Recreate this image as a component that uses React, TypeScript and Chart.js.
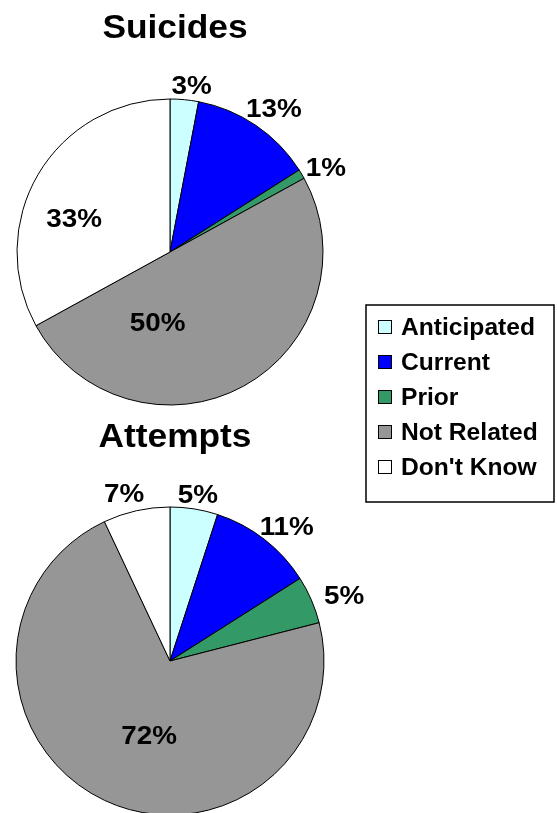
import React, { useEffect, useRef } from "react";
import { Chart, registerables } from "chart.js";

Chart.register(...registerables);

// ---- data ----
const categories = ["Anticipated", "Current", "Prior", "Not Related", "Don't Know"];
const suicideShares = [3, 13, 1, 50, 33];
const attemptShares = [5, 11, 5, 72, 7];
const sliceColors = ["#CCFFFF", "#0000FF", "#339966", "#969696", "#FFFFFF"];

// ---- styling ----
const FONT = '"Liberation Sans", Arial, Helvetica, sans-serif';
const STRETCH = 1.07;
const W = 557;
const H = 813;

// polar placement of each percentage label: f = distance as a fraction of the
// radius, da = degrees turned from the slice's middle angle (clockwise)
const suicideLabelPlacement = [
  { f: 1.1, da: 2 },
  { f: 1.16, da: 1.6 },
  { f: 1.16, da: 2 },
  { f: 0.46, da: 39 },
  { f: 0.665, da: -11 },
];
const attemptLabelPlacement = [
  { f: 1.1, da: 0.5 },
  { f: 1.16, da: 3 },
  { f: 1.21, da: 2.6 },
  { f: 0.5, da: -9.5 },
  { f: 1.13, da: -2.7 },
];

function stretchedText(
  ctx: CanvasRenderingContext2D,
  text: string,
  x: number,
  y: number,
  size: number,
  align: CanvasTextAlign
) {
  ctx.save();
  ctx.font = `bold ${size}px ${FONT}`;
  ctx.textBaseline = "alphabetic";
  ctx.textAlign = align;
  ctx.fillStyle = "#000";
  ctx.translate(x, y);
  ctx.scale(STRETCH, 1);
  ctx.fillText(text, 0, 0);
  ctx.restore();
}

// Title above the pie and a percentage label for every slice
const pieDecor = {
  id: "pieDecor",
  afterDatasetsDraw(chart: any, _args: any, opts: any) {
    const ctx: CanvasRenderingContext2D = chart.ctx;
    const meta = chart.getDatasetMeta(0);
    const arcs = meta.data as any[];
    if (!arcs.length) return;
    const cx = arcs[0].x;
    const cy = arcs[0].y;
    const r = arcs[0].outerRadius;
    stretchedText(ctx, opts.title, cx + 5, cy - 214, 33, "center");
    const values = chart.data.datasets[0].data as number[];
    const size = 26;
    arcs.forEach((arc, i) => {
      const p = opts.placement[i];
      const a = (arc.startAngle + arc.endAngle) / 2 + (p.da * Math.PI) / 180;
      const x = cx + Math.cos(a) * p.f * r;
      const y = cy + Math.sin(a) * p.f * r;
      stretchedText(ctx, `${values[i]}%`, x, y + size * 0.358, size, "center");
    });
  },
};

// Boxed legend shared by both pies
const boxLegend = {
  id: "boxLegend",
  afterDraw(chart: any, _args: any, opts: any) {
    const ctx: CanvasRenderingContext2D = chart.ctx;
    const { left, top, width, height } = opts;
    ctx.save();
    ctx.strokeStyle = "#000";
    ctx.lineWidth = 1.5;
    ctx.strokeRect(left, top, width, height);
    const labels = chart.data.labels as string[];
    const colors = chart.data.datasets[0].backgroundColor as string[];
    labels.forEach((label, i) => {
      const cy = top + 22 + i * 35;
      ctx.fillStyle = colors[i];
      ctx.fillRect(left + 12, cy - 7, 14, 14);
      ctx.lineWidth = 1;
      ctx.strokeStyle = "#000";
      ctx.strokeRect(left + 12.5, cy - 6.5, 13, 13);
      stretchedText(ctx, label, left + 35, cy + 23 * 0.358, 23, "left");
    });
    ctx.restore();
  },
};

function makePie(
  canvas: HTMLCanvasElement,
  title: string,
  data: number[],
  placement: { f: number; da: number }[],
  radius: number,
  padding: { left: number; right: number; top: number; bottom: number },
  withLegend: boolean
) {
  return new Chart(canvas, {
    type: "pie",
    data: {
      labels: categories,
      datasets: [
        {
          data,
          backgroundColor: sliceColors,
          borderColor: "#000",
          borderWidth: 1,
          radius,
          clip: false,
        } as any,
      ],
    },
    options: {
      responsive: false,
      animation: false,
      events: [],
      layout: { padding },
      plugins: {
        legend: { display: false },
        tooltip: { enabled: false },
        pieDecor: { title, placement },
        boxLegend: { left: 366, top: 305, width: 188, height: 197 },
      } as any,
    },
    plugins: withLegend ? [pieDecor, boxLegend] : [pieDecor],
  });
}

export default function App() {
  const topRef = useRef<HTMLCanvasElement>(null);
  const bottomRef = useRef<HTMLCanvasElement>(null);

  useEffect(() => {
    if (!topRef.current || !bottomRef.current) return;
    const attempts = makePie(
      bottomRef.current,
      "Attempts",
      attemptShares,
      attemptLabelPlacement,
      154,
      { left: 0, right: 217, top: 509, bottom: 0 },
      false
    );
    const suicides = makePie(
      topRef.current,
      "Suicides",
      suicideShares,
      suicideLabelPlacement,
      153,
      { left: 0, right: 217, top: 0, bottom: 309 },
      true
    );
    return () => {
      suicides.destroy();
      attempts.destroy();
    };
  }, []);

  const canvasStyle: React.CSSProperties = {
    position: "absolute",
    left: 0,
    top: 0,
    width: W,
    height: H,
  };

  return (
    <div
      style={{
        position: "absolute",
        left: 0,
        top: 0,
        width: W,
        height: H,
        background: "#fff",
        overflow: "hidden",
      }}
    >
      <canvas ref={bottomRef} width={W} height={H} style={canvasStyle} />
      <canvas ref={topRef} width={W} height={H} style={canvasStyle} />
    </div>
  );
}
